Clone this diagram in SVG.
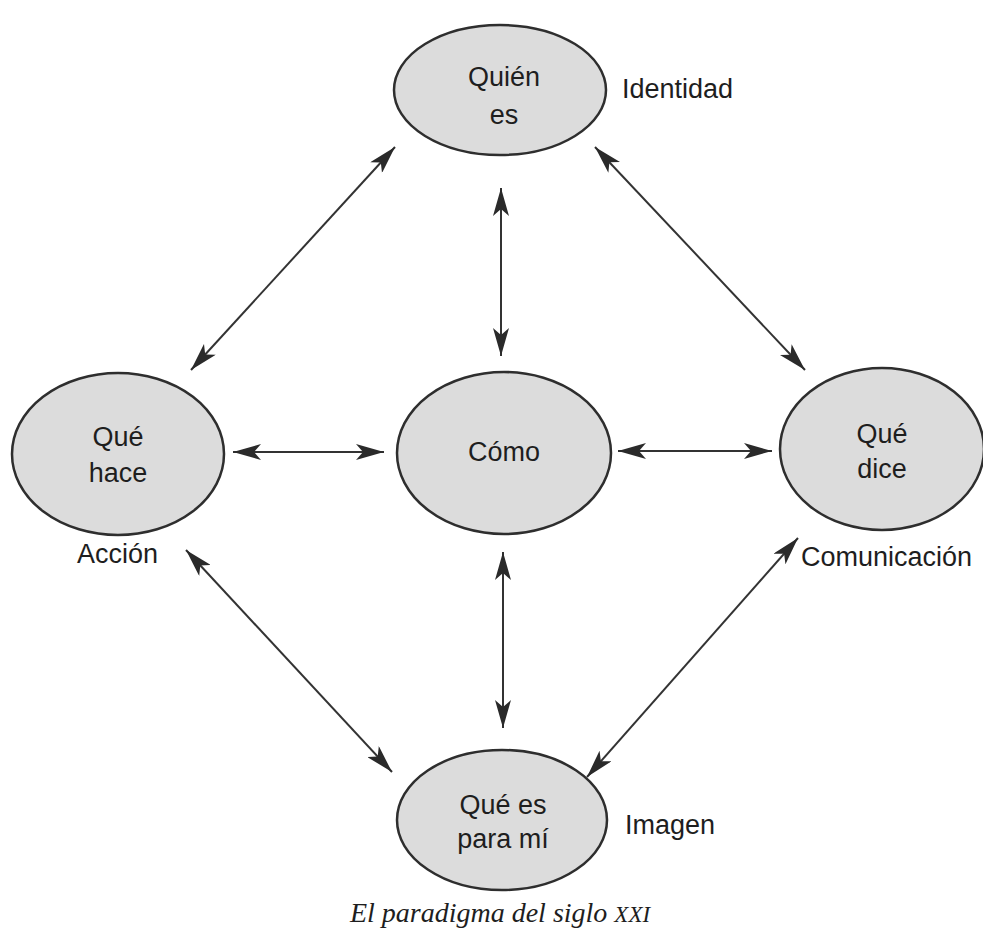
<svg xmlns="http://www.w3.org/2000/svg" width="983" height="947" viewBox="0 0 983 947">
<style>
.node{fill:#dcdcdc;stroke:#2e2e2e;stroke-width:2.5}
.t{font-family:"Liberation Sans",Arial,sans-serif;font-size:27px;fill:#1e1e1e;text-anchor:middle}
.lbl{font-family:"Liberation Sans",Arial,sans-serif;font-size:27px;fill:#1e1e1e}
.cap{font-family:"Liberation Serif","Times New Roman",serif;font-style:italic;font-size:28px;fill:#1e1e1e;text-anchor:middle}
.edge{stroke:#333;stroke-width:2;fill:none;marker-start:url(#ah);marker-end:url(#ah)}
</style>
<defs>
<marker id="ah" markerUnits="userSpaceOnUse" markerWidth="28" markerHeight="16" refX="28" refY="8" orient="auto-start-reverse" viewBox="0 0 28 16">
<path d="M0,0 L28,8 L0,16 L7,8 Z" fill="#2a2a2a"/>
</marker>
</defs>
<rect width="983" height="947" fill="#ffffff"/>
<g id="connectors">
<line class="edge" x1="395" y1="147" x2="191" y2="370"/>
<line class="edge" x1="595" y1="147" x2="805" y2="370"/>
<line class="edge" x1="501" y1="188" x2="501" y2="356"/>
<line class="edge" x1="233" y1="452" x2="384" y2="452"/>
<line class="edge" x1="618" y1="451" x2="772" y2="451"/>
<line class="edge" x1="503" y1="552" x2="503" y2="728"/>
<line class="edge" x1="186" y1="550" x2="392" y2="772"/>
<line class="edge" x1="798" y1="538" x2="587" y2="777"/>
</g>
<g id="quien">
<ellipse class="node" cx="500" cy="90" rx="106" ry="65"/>
<text class="t" x="504" y="86">Quién</text>
<text class="t" x="504" y="124">es</text>
</g>
<g id="hace">
<ellipse class="node" cx="118" cy="454" rx="106" ry="81"/>
<text class="t" x="118" y="446">Qué</text>
<text class="t" x="118" y="482">hace</text>
</g>
<g id="como">
<ellipse class="node" cx="504" cy="453" rx="107" ry="81"/>
<text class="t" x="504" y="461">Cómo</text>
</g>
<g id="dice">
<ellipse class="node" cx="882" cy="449" rx="102" ry="81"/>
<text class="t" x="882" y="443">Qué</text>
<text class="t" x="882" y="478">dice</text>
</g>
<g id="para">
<ellipse class="node" cx="502" cy="820" rx="105" ry="70"/>
<text class="t" x="503" y="814">Qué es</text>
<text class="t" x="503" y="848">para mí</text>
</g>
<g id="labels">
<text class="lbl" x="622" y="98">Identidad</text>
<text class="lbl" x="77" y="563">Acción</text>
<text class="lbl" x="801" y="566">Comunicación</text>
<text class="lbl" x="625" y="834">Imagen</text>
</g>
<text class="cap" x="500" y="922">El paradigma del siglo <tspan font-size="23">XXI</tspan></text>
</svg>
